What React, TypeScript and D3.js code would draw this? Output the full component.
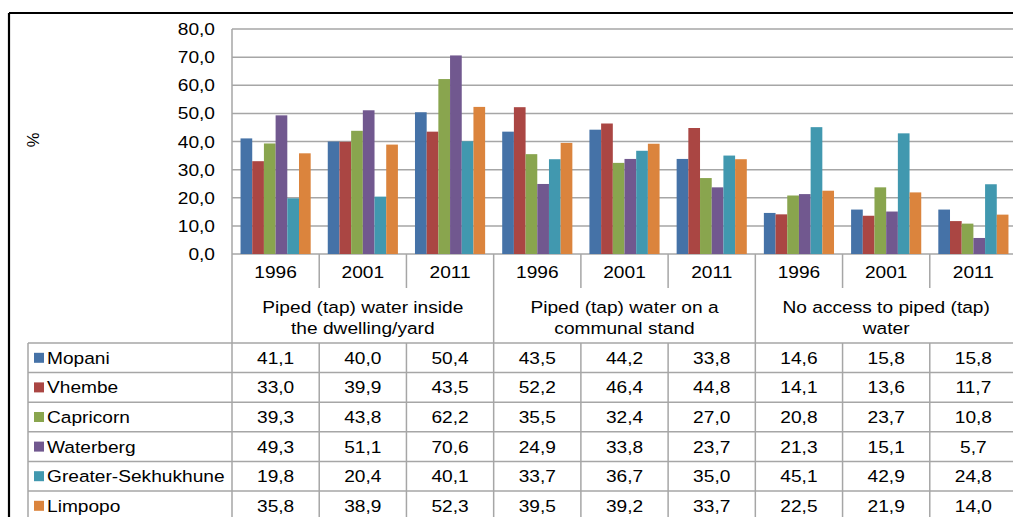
import React from "react";
import * as d3 from "d3";

const years = ["1996", "2001", "2011"];
const groups = [
  ["Piped (tap) water inside", "the dwelling/yard"],
  ["Piped (tap) water on a", "communal stand"],
  ["No access to piped (tap)", "water"],
];
const districts = ["Mopani", "Vhembe", "Capricorn", "Waterberg", "Greater-Sekhukhune", "Limpopo"];
const colors = ["#4572A7", "#AA4643", "#89A54E", "#71588F", "#4198AF", "#DB843D"];

const mopani = [41.1, 40.0, 50.4, 43.5, 44.2, 33.8, 14.6, 15.8, 15.8];
const vhembe = [33.0, 39.9, 43.5, 52.2, 46.4, 44.8, 14.1, 13.6, 11.7];
const capricorn = [39.3, 43.8, 62.2, 35.5, 32.4, 27.0, 20.8, 23.7, 10.8];
const waterberg = [49.3, 51.1, 70.6, 24.9, 33.8, 23.7, 21.3, 15.1, 5.7];
const sekhukhune = [19.8, 20.4, 40.1, 33.7, 36.7, 35.0, 45.1, 42.9, 24.8];
const limpopo = [35.8, 38.9, 52.3, 39.5, 39.2, 33.7, 22.5, 21.9, 14.0];
const series = [mopani, vhembe, capricorn, waterberg, sekhukhune, limpopo];

const yTicks = [0, 10, 20, 30, 40, 50, 60, 70, 80];

const W = 1013;
const H = 517;
const FONT = "'Liberation Sans', Arial, sans-serif";
const FS = 16.5;
const SX = 1.16;
const GRID = "#a6a6a6";

// stretched label, the source picture is wider than it is tall
const T = ({ x, y, anchor = "middle", children }: any) => (
  <text
    transform={`translate(${x},${y}) scale(${SX},1)`}
    textAnchor={anchor}
    fontSize={FS}
    fill="#000"
  >
    {children}
  </text>
);

export default function App() {
  const cols = d3.range(groups.length * years.length);
  const x = d3.scaleBand<number>().domain(cols).range([232, 1017]);
  const xi = d3
    .scaleBand<string>()
    .domain(districts)
    .range([0, x.bandwidth()])
    .paddingOuter(0.73);
  const y = d3.scaleLinear().domain([0, 80]).range([254, 29]);

  const headTop = y(0);
  const yearBottom = 288;
  const tableTop = 343;
  const rows = d3.scaleBand<string>().domain(districts).range([tableTop, tableTop + 6 * 29.6]);
  const edges = cols.map((c) => x(c)!).concat([x.range()[1]]);
  const groupEdge = (i: number) => i % years.length === 0;

  return (
    <svg
      width={W}
      height={H}
      style={{ position: "absolute", left: 0, top: 0, fontFamily: FONT }}
    >
      <rect width={W} height={H} fill="#fff" />
      {/* outer frame */}
      <line x1={9} x2={W} y1={13} y2={13} stroke="#000" strokeWidth={2.2} />
      <line x1={9} x2={9} y1={13} y2={H} stroke="#000" strokeWidth={2.2} />

      {/* gridlines */}
      {yTicks.map((t) => (
        <line key={t} x1={232} x2={W} y1={y(t)} y2={y(t)} stroke={GRID} strokeWidth={1.5} />
      ))}
      {yTicks.map((t) => (
        <T key={t} x={215} y={y(t) + 6} anchor="end">
          {d3.format(".1f")(t).replace(".", ",")}
        </T>
      ))}
      <text
        transform="translate(39,140) rotate(-90)"
        textAnchor="middle"
        fontSize={FS}
      >
        %
      </text>

      {/* bars */}
      {series.map((vals, si) =>
        vals.map((v, ci) => (
          <rect
            key={`${si}-${ci}`}
            x={x(ci)! + xi(districts[si])!}
            y={y(v)}
            width={xi.bandwidth()}
            height={y(0) - y(v)}
            fill={colors[si]}
          />
        ))
      )}

      {/* category axis */}
      {edges.map((e, i) => (
        <line
          key={`v${i}`}
          x1={e}
          x2={e}
          y1={i === 0 ? 29 : headTop}
          y2={groupEdge(i) ? H : yearBottom}
          stroke={GRID}
          strokeWidth={1.5}
        />
      ))}
      {edges.map((e, i) =>
        groupEdge(i) ? null : (
          <line key={`t${i}`} x1={e} x2={e} y1={tableTop} y2={H} stroke={GRID} strokeWidth={1.5} />
        )
      )}
      {cols.map((c) => (
        <T key={`y${c}`} x={x(c)! + x.bandwidth() / 2} y={278}>
          {years[c % years.length]}
        </T>
      ))}
      {groups.map((g, gi) => {
        const cx = (x(gi * 3)! + x(gi * 3 + 2)! + x.bandwidth()) / 2;
        return g.map((line, li) => (
          <T key={`g${gi}-${li}`} x={cx} y={313 + li * 21}>
            {line}
          </T>
        ));
      })}

      {/* data table */}
      <line x1={28} x2={28} y1={tableTop} y2={H} stroke={GRID} strokeWidth={1.5} />
      {districts.map((d, ri) => (
        <line
          key={`h${d}`}
          x1={28}
          x2={W}
          y1={rows(d)!}
          y2={rows(d)!}
          stroke={GRID}
          strokeWidth={1.5}
        />
      ))}
      {districts.map((d, ri) => {
        const cy = rows(d)! + rows.bandwidth() / 2;
        return (
          <g key={`r${d}`}>
            <rect x={34} y={cy - 5} width={10} height={10} fill={colors[ri]} />
            <T x={47} y={cy + 6} anchor="start">
              {d}
            </T>
            {series[ri].map((v, ci) => (
              <T key={ci} x={x(ci)! + x.bandwidth() / 2} y={cy + 6}>
                {d3.format(".1f")(v).replace(".", ",")}
              </T>
            ))}
          </g>
        );
      })}
    </svg>
  );
}
